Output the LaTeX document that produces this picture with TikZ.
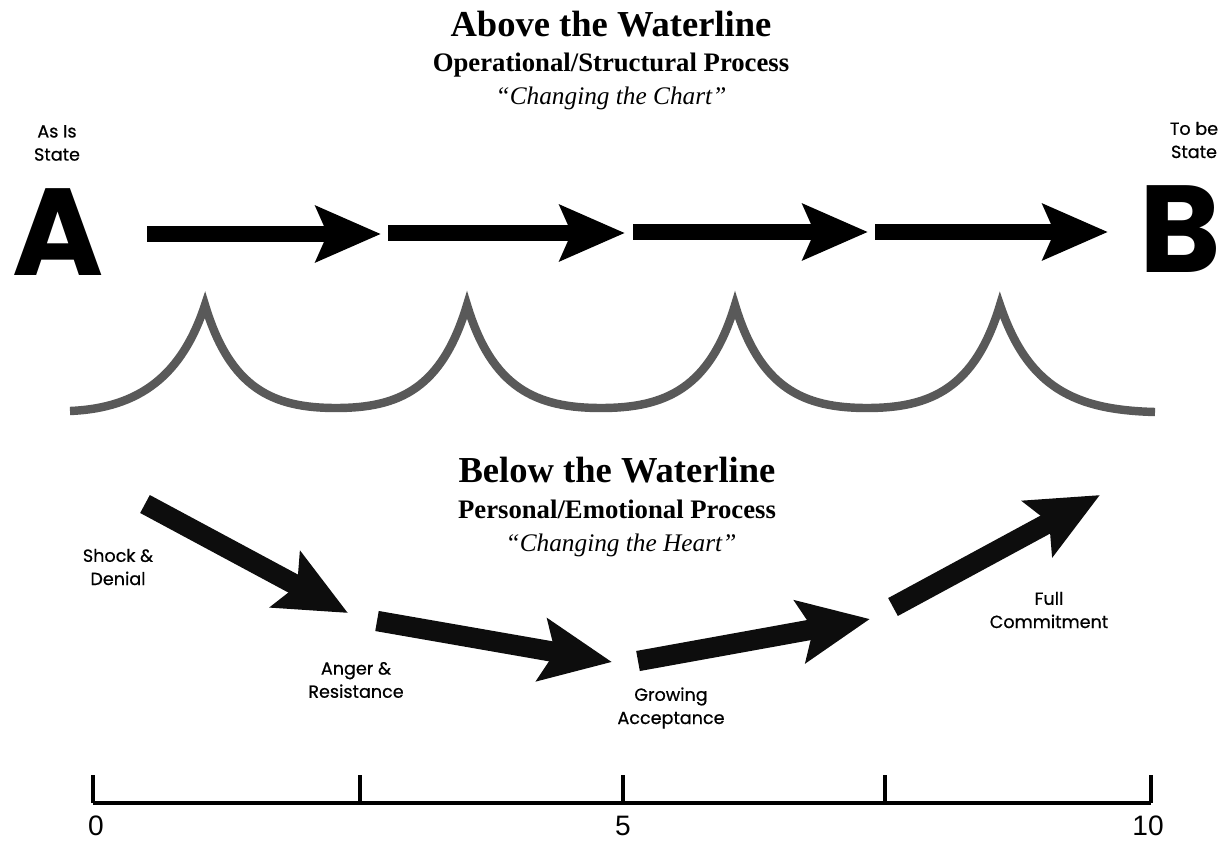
\documentclass[tikz,border=0pt]{standalone}
\usepackage{fontspec}
\setmainfont{Liberation Serif}
\newfontfamily\fut{Poppins}[FakeBold=0.6]
\newfontfamily\futbig{Poppins}
\newfontfamily\dig{Liberation Sans}
\usetikzlibrary{arrows.meta}
\begin{document}
\begin{tikzpicture}[x=0.025cm,y=-0.025cm,
  toparrow/.style={line width=11pt,draw=black,-{Stealth[length=46pt,width=39pt,inset=8pt]}},
  botarrow/.style={line width=14.5pt,draw=black!95,-{Stealth[length=50pt,width=44pt,inset=9pt]}},
  wave/.style={line width=6pt,draw=black!65,line join=miter},
  axisline/.style={line width=3pt,draw=black},
  title/.style={font=\fontsize{26}{30}\selectfont\bfseries,anchor=base},
  subtitle/.style={font=\fontsize{19}{22}\selectfont\bfseries,anchor=base},
  quote/.style={font=\fontsize{18}{22}\selectfont\itshape,anchor=base},
  lbl/.style={font=\fut\fontsize{12.5}{16.5}\selectfont,align=center,inner sep=0pt},
  bigletter/.style={font=\futbig\bfseries\fontsize{88}{90}\selectfont,anchor=base,inner sep=0pt},
  num/.style={font=\dig\fontsize{20}{24}\selectfont,inner sep=0pt}]
\useasboundingbox (0,0) rectangle (1220,841);

% titles
\node[title] (t1) at (611,37) {Above the Waterline};
\node[subtitle] (t2) at (611,71) {Operational/Structural Process};
\node[quote] (t3) at (611,104) {“Changing the Chart”};
\node[title] (b1) at (617,482) {Below the Waterline};
\node[subtitle] (b2) at (617,518) {Personal/Emotional Process};
\node[quote] (b3) at (621,551) {“Changing the Heart”};

% states
\node[lbl] (asis) at (57,143) {As Is\\State};
\node[lbl] (tobe) at (1194,140) {To be\\State};
\node[bigletter] (A) at (58,275) {A};
\node[bigletter] (B) at (1180,272) {B};

% top arrows
\coordinate (p0) at (147,234);
\coordinate (p1) at (381,234);
\coordinate (q0) at (388,233);
\coordinate (q1) at (625,233);
\coordinate (r0) at (633,232);
\coordinate (r1) at (868,232);
\coordinate (s0) at (875,232);
\coordinate (s1) at (1108,232);
\draw[toparrow] (p0) -- (p1);
\draw[toparrow] (q0) -- (q1);
\draw[toparrow] (r0) -- (r1);
\draw[toparrow] (s0) -- (s1);

% waterline
\coordinate (w0) at (70,411);
\coordinate (c1) at (205,305);
\coordinate (c2) at (467,305);
\coordinate (c3) at (735,305);
\coordinate (c4) at (1000,305);
\coordinate (w5) at (1155,412);
\draw[wave] (w0) .. controls (140,408) and (182,375) .. (c1)
  .. controls (230,388) and (272,408) .. (336,408)
  .. controls (400,408) and (442,388) .. (c2)
  .. controls (492,388) and (536,408) .. (601,408)
  .. controls (666,408) and (710,388) .. (c3)
  .. controls (760,388) and (803,408) .. (867,408)
  .. controls (931,408) and (975,388) .. (c4)
  .. controls (1028,388) and (1075,410) .. (w5);

% emotional arrows
\coordinate (e0) at (145,504);
\coordinate (e1) at (348,613);
\coordinate (f0) at (377,621);
\coordinate (f1) at (612,662);
\coordinate (g0) at (638,661);
\coordinate (g1) at (870,619);
\coordinate (h0) at (893,607);
\coordinate (h1) at (1100,495);
\draw[botarrow] (e0) -- (e1);
\draw[botarrow] (f0) -- (f1);
\draw[botarrow] (g0) -- (g1);
\draw[botarrow] (h0) -- (h1);

\node[lbl] (shock) at (118,567) {Shock \&\\Denial};
\node[lbl] (anger) at (356,680) {Anger \&\\Resistance};
\node[lbl] (grow) at (671,708) {Growing\\Acceptance};
\node[lbl] (full) at (1049,610) {Full\\Commitment};

% axis
\coordinate (x0) at (93,803);
\coordinate (x1) at (360,803);
\coordinate (x2) at (623,803);
\coordinate (x3) at (885,803);
\coordinate (x4) at (1151,803);
\draw[axisline] (x0) -- (x4);
\foreach \p in {x0,x1,x2,x3,x4}{
  \draw[axisline] (\p) -- ++(0,-28);
}
\node[num] (n0) at (96,826) {0};
\node[num] (n5) at (623,826) {5};
\node[num] (n10) at (1148,826) {10};
\end{tikzpicture}
\end{document}
